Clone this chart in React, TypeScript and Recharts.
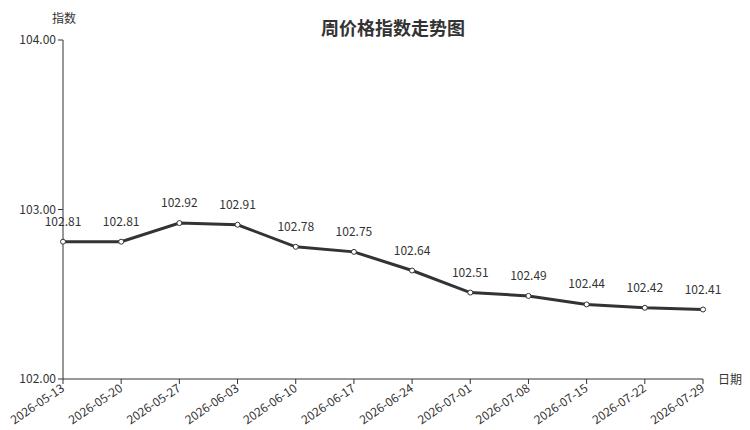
import { LineChart, Line, XAxis, YAxis, LabelList } from 'recharts'

const FONT = '"Noto Sans CJK SC", "Noto Sans", sans-serif'
const INK = '#333'

const dates = [
  '2026-05-13', '2026-05-20', '2026-05-27', '2026-06-03', '2026-06-10', '2026-06-17',
  '2026-06-24', '2026-07-01', '2026-07-08', '2026-07-15', '2026-07-22', '2026-07-29',
]
const index = [102.81, 102.81, 102.92, 102.91, 102.78, 102.75, 102.64, 102.51, 102.49, 102.44, 102.42, 102.41]
const yTicks = [102, 103, 104]

const data = dates.map((d, i) => ({ date: d, value: index[i] }))

function DateTick({ x, y, payload }: { x?: number; y?: number; payload?: { value: string } }) {
  return (
    <g transform={`translate(${x},${(y ?? 0) + 1})`}>
      <text x={0} y={0} dy={4} textAnchor="end" transform="rotate(-34)"
        style={{ fontFamily: FONT, fontSize: 12, fill: INK }}>
        {payload?.value}
      </text>
    </g>
  )
}

export default function App() {
  return (
    <div style={{ position: 'absolute', left: 0, top: 0, width: 750, height: 430, background: '#fff' }}>
      <LineChart width={750} height={430} data={data} margin={{ top: 40, right: 47, bottom: 6, left: 8 }}>
        <XAxis dataKey="date" padding={{ left: 0, right: 0 }} interval={0} height={45}
          stroke={INK} tickSize={5} tick={<DateTick />} />
        <YAxis domain={[102, 104]} ticks={yTicks} width={55} stroke={INK} tickSize={5}
          tickFormatter={(v: number) => v.toFixed(2)}
          tick={{ fontFamily: FONT, fontSize: 12, fill: INK }} />
        <Line dataKey="value" stroke={INK} strokeWidth={3} isAnimationActive={false}
          dot={{ r: 2.5, fill: '#fff', stroke: INK, strokeWidth: 1 }}>
          <LabelList dataKey="value" position="top" offset={16}
            formatter={(v: unknown) => Number(v).toFixed(2)}
            style={{ fontFamily: FONT, fontSize: 12, fill: INK }} />
        </Line>
      </LineChart>
      <div style={{ position: 'absolute', left: 0, top: 14, width: 786, textAlign: 'center', fontFamily: FONT, fontSize: 18, fontWeight: 700, color: INK }}>
        周价格指数走势图
      </div>
      <div style={{ position: 'absolute', left: 52, top: 9, fontFamily: FONT, fontSize: 12, color: INK }}>指数</div>
      <div style={{ position: 'absolute', left: 718, top: 370, fontFamily: FONT, fontSize: 12, color: INK }}>日期</div>
    </div>
  )
}
